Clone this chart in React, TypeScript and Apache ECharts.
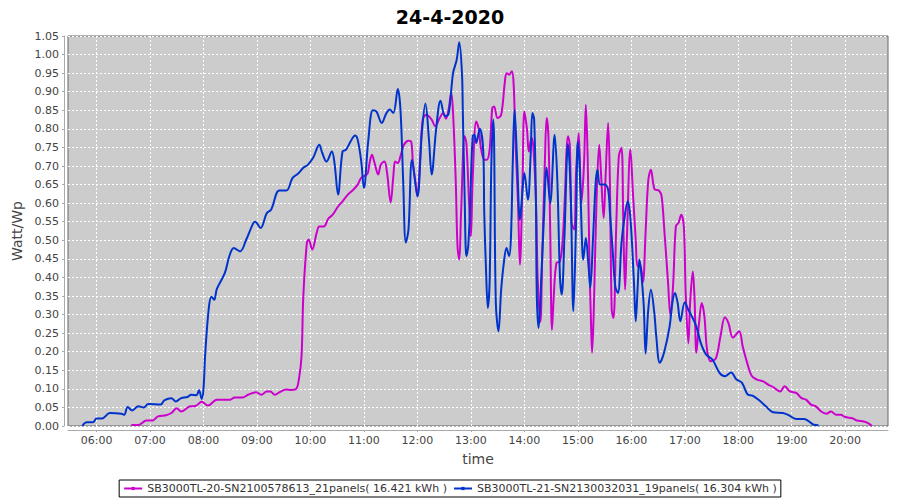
import React, { useEffect, useRef } from "react";
import * as echarts from "echarts";

const chartTitle = "24-4-2020";
const yAxisName = "Watt/Wp";
const xAxisName = "time";
const seriesNames = [
  "SB3000TL-20-SN2100578613_21panels( 16.421 kWh )",
  "SB3000TL-21-SN2130032031_19panels( 16.304 kWh )",
];
const seriesColors = ["#CC00CC", "#0033CC"];

const xTickLabels = [
  "06:00", "07:00", "08:00", "09:00", "10:00", "11:00", "12:00", "13:00",
  "14:00", "15:00", "16:00", "17:00", "18:00", "19:00", "20:00",
];
const xRange = ["05:28", "20:48"];

// SB3000TL-20 (magenta)
const magentaTimes = [
  "06:39","06:47","06:56","07:03","07:09","07:18","07:24","07:30","07:35","07:45",
  "07:51","07:58","08:05","08:15","08:30","08:35","08:44","08:50","08:59","09:05",
  "09:11","09:15","09:20","09:26","09:33","09:38","09:44","09:47","09:50","09:52",
  "09:56","09:58","10:02","10:07","10:10","10:15","10:20","10:25","10:31","10:36",
  "10:42","10:48","10:53","10:57","11:04","11:06","11:09","11:12","11:16","11:19",
  "11:23","11:26","11:30","11:33","11:35","11:38","11:41","11:45","11:50","11:53",
  "11:55","11:58","12:00","12:03","12:06","12:10","12:16","12:20","12:25","12:29",
  "12:32","12:35","12:38","12:40","12:43","12:45","12:47","12:49","12:53","12:55",
  "12:58","13:00","13:02","13:06","13:09","13:11","13:15","13:18","13:21","13:24",
  "13:26","13:30","13:34","13:38","13:40","13:43","13:46","13:48","13:50","13:53",
  "13:55","13:58","14:00","14:03","14:05","14:08","14:10","14:13","14:15","14:18",
  "14:20","14:23","14:25","14:27","14:29","14:31","14:33","14:36","14:40","14:43",
  "14:45","14:49","14:51","14:53","14:56","14:58","15:01","15:04","15:07","15:09",
  "15:11","15:13","15:15","15:16","15:18","15:21","15:24","15:26","15:29","15:31",
  "15:34","15:36","15:38","15:40","15:43","15:46","15:49","15:51","15:53","15:55",
  "15:59","16:02","16:05","16:07","16:10","16:13","16:16","16:19","16:22","16:26",
  "16:31","16:34","16:37","16:41","16:44","16:47","16:50","16:53","16:56","16:59",
  "17:01","17:04","17:06","17:09","17:11","17:13","17:16","17:19","17:22","17:25",
  "17:29","17:35","17:40","17:45","17:49","17:54","18:01","18:05","18:10","18:15",
  "18:21","18:28","18:34","18:39","18:47","18:52","18:58","19:05","19:11","19:16",
  "19:22","19:27","19:33","19:39","19:44","19:50","19:55","20:00","20:08","20:13",
  "20:21","20:27","20:30",
];
const magentaValues = [
  0.003,0.003,0.015,0.015,0.026,0.029,0.035,0.048,0.039,0.053,
  0.054,0.065,0.055,0.071,0.071,0.077,0.077,0.084,0.091,0.084,
  0.093,0.093,0.084,0.092,0.098,0.097,0.100,0.125,0.187,0.349,
  0.493,0.502,0.475,0.520,0.537,0.537,0.558,0.569,0.591,0.605,
  0.623,0.636,0.650,0.668,0.679,0.704,0.730,0.708,0.677,0.704,
  0.712,0.681,0.602,0.672,0.712,0.708,0.726,0.757,0.768,0.766,
  0.708,0.654,0.618,0.717,0.825,0.838,0.825,0.807,0.829,0.843,
  0.827,0.852,0.897,0.843,0.663,0.484,0.448,0.574,0.780,0.760,
  0.600,0.510,0.663,0.820,0.798,0.753,0.717,0.717,0.744,0.856,
  0.860,0.829,0.838,0.923,0.950,0.946,0.955,0.919,0.771,0.591,
  0.434,0.663,0.847,0.798,0.739,0.776,0.753,0.609,0.394,0.280,
  0.450,0.708,0.829,0.780,0.529,0.259,0.349,0.439,0.443,0.502,
  0.591,0.780,0.757,0.547,0.529,0.681,0.789,0.600,0.708,0.865,
  0.726,0.448,0.259,0.197,0.322,0.609,0.757,0.681,0.560,0.663,
  0.816,0.654,0.313,0.291,0.529,0.726,0.749,0.547,0.367,0.502,
  0.745,0.620,0.500,0.430,0.434,0.387,0.520,0.660,0.690,0.638,
  0.634,0.618,0.529,0.394,0.295,0.385,0.538,0.547,0.569,0.535,
  0.358,0.223,0.331,0.416,0.340,0.197,0.277,0.331,0.295,0.205,
  0.174,0.183,0.241,0.293,0.277,0.238,0.255,0.214,0.170,0.135,
  0.125,0.120,0.111,0.105,0.093,0.107,0.093,0.089,0.075,0.071,
  0.057,0.053,0.039,0.033,0.039,0.030,0.030,0.024,0.021,0.015,
  0.012,0.006,0.000,
];

// SB3000TL-21 (blue)
const blueTimes = [
  "05:44","05:49","05:56","06:00","06:06","06:15","06:28","06:31","06:35","06:40",
  "06:47","06:53","06:58","07:12","07:16","07:24","07:29","07:35","07:42","07:46",
  "07:52","07:55","07:58","08:00","08:02","08:06","08:09","08:12","08:15","08:24",
  "08:29","08:34","08:41","08:48","08:56","08:58","09:04","09:11","09:16","09:25",
  "09:33","09:40","09:46","09:52","09:57","10:03","10:10","10:13","10:18","10:24",
  "10:27","10:31","10:36","10:40","10:45","10:50","10:53","10:57","11:00","11:05",
  "11:10","11:14","11:20","11:25","11:29","11:33","11:38","11:41","11:44","11:47",
  "11:50","11:54","12:00","12:05","12:09","12:13","12:16","12:21","12:26","12:31",
  "12:35","12:40","12:44","12:47","12:50","12:51","12:53","12:55","12:57","12:59",
  "13:02","13:04","13:06","13:10","13:14","13:15","13:17","13:19","13:21","13:23",
  "13:25","13:26","13:28","13:31","13:34","13:37","13:40","13:43","13:45","13:47",
  "13:49","13:52","13:55","13:58","14:00","14:04","14:07","14:09","14:11","14:13",
  "14:14","14:16","14:19","14:22","14:25","14:29","14:34","14:37","14:40","14:42",
  "14:45","14:49","14:52","14:55","14:58","15:00","15:02","15:05","15:06","15:09",
  "15:12","15:14","15:17","15:20","15:22","15:25","15:30","15:34","15:36","15:39",
  "15:42","15:45","15:49","15:52","15:56","15:59","16:03","16:05","16:07","16:09",
  "16:11","16:14","16:16","16:19","16:22","16:26","16:28","16:32","16:37","16:43",
  "16:46","16:49","16:52","16:55","17:00","17:04","17:07","17:13","17:18","17:24",
  "17:31","17:39","17:45","17:52","17:58","18:04","18:11","18:16","18:25","18:31",
  "18:39","18:50","18:56","19:05","19:14","19:24","19:30",
];
const blueValues = [
  0.000,0.010,0.010,0.020,0.020,0.035,0.033,0.030,0.051,0.042,
  0.053,0.050,0.059,0.058,0.069,0.075,0.066,0.075,0.078,0.084,
  0.083,0.096,0.073,0.100,0.196,0.318,0.348,0.340,0.369,0.412,
  0.457,0.479,0.470,0.502,0.547,0.550,0.533,0.573,0.583,0.634,
  0.634,0.668,0.679,0.695,0.703,0.722,0.757,0.737,0.712,0.739,
  0.708,0.623,0.739,0.744,0.766,0.782,0.771,0.712,0.641,0.771,
  0.850,0.847,0.816,0.841,0.852,0.843,0.907,0.852,0.663,0.494,
  0.529,0.717,0.618,0.789,0.868,0.771,0.677,0.798,0.876,0.834,
  0.840,0.950,0.985,1.033,0.950,0.843,0.618,0.457,0.484,0.583,
  0.780,0.784,0.762,0.800,0.735,0.574,0.421,0.318,0.385,0.708,
  0.825,0.775,0.331,0.255,0.367,0.439,0.479,0.457,0.510,0.708,
  0.852,0.708,0.555,0.636,0.681,0.609,0.726,0.843,0.825,0.600,
  0.349,0.264,0.398,0.564,0.695,0.600,0.784,0.660,0.400,0.354,
  0.510,0.760,0.627,0.309,0.547,0.766,0.699,0.475,0.448,0.506,
  0.430,0.372,0.502,0.654,0.690,0.650,0.650,0.636,0.574,0.475,
  0.376,0.358,0.493,0.555,0.605,0.560,0.385,0.282,0.367,0.448,
  0.415,0.322,0.195,0.313,0.367,0.300,0.241,0.170,0.200,0.268,
  0.331,0.358,0.331,0.282,0.333,0.313,0.300,0.268,0.223,0.192,
  0.179,0.143,0.134,0.144,0.125,0.117,0.084,0.082,0.066,0.053,
  0.037,0.035,0.030,0.019,0.019,0.004,0.002,
];

const FONT = "DejaVu Sans";

function toMin(t: string): number {
  const [h, m] = t.split(":").map(Number);
  return h * 60 + m;
}
function fmtMin(v: number): string {
  const h = Math.floor(v / 60);
  const m = Math.round(v - h * 60);
  return String(h).padStart(2, "0") + ":" + String(m).padStart(2, "0");
}

export default function App() {
  const ref = useRef<HTMLDivElement>(null);
  useEffect(() => {
    if (!ref.current) return;
    const chart = echarts.init(ref.current, null, { renderer: "svg" });
    const ticks = xTickLabels.map(toMin);
    const mData = magentaTimes.map((t, i) => [toMin(t), magentaValues[i]]);
    const bData = blueTimes.map((t, i) => [toMin(t), blueValues[i]]);
    chart.setOption({
      animation: false,
      backgroundColor: "#ffffff",
      title: {
        text: chartTitle,
        left: "center",
        top: 2,
        textStyle: { fontFamily: FONT, fontSize: 19, fontWeight: "bold", color: "#000" },
      },
      grid: {
        left: 68,
        right: 12,
        top: 36,
        bottom: 74,
        show: true,
        backgroundColor: "#cccccc",
        borderColor: "#666666",
        borderWidth: 1,
      },
      legend: {
        bottom: 3,
        left: "center",
        borderColor: "#000",
        borderWidth: 1,
        padding: [3, 4, 3, 4],
        itemGap: 6,
        itemWidth: 18,
        itemHeight: 4,
        textStyle: { fontFamily: FONT, fontSize: 11, color: "#333" },
        data: seriesNames,
      },
      xAxis: {
        type: "value",
        min: toMin(xRange[0]),
        max: toMin(xRange[1]),
        offset: 4,
        name: xAxisName,
        nameLocation: "middle",
        nameGap: 22,
        nameTextStyle: { fontFamily: FONT, fontSize: 14, color: "#444" },
        axisLine: { show: true, onZero: false, lineStyle: { color: "#aaaaaa" } },
        axisTick: { show: true, length: 2, customValues: ticks, lineStyle: { color: "#aaaaaa" } },
        axisLabel: {
          customValues: ticks,
          formatter: (v: number) => fmtMin(v),
          fontFamily: FONT,
          fontSize: 11,
          color: "#444",
          margin: 5,
        },
        splitLine: { show: true, lineStyle: { color: "#ffffff", type: [2, 2], width: 1 } },
      },
      yAxis: {
        type: "value",
        min: 0,
        max: 1.05,
        interval: 0.05,
        offset: 4,
        name: yAxisName,
        nameLocation: "middle",
        nameGap: 37,
        nameTextStyle: { fontFamily: FONT, fontSize: 14, color: "#444" },
        axisLine: { show: true, lineStyle: { color: "#aaaaaa" } },
        axisTick: { show: true, length: 2, lineStyle: { color: "#aaaaaa" } },
        axisLabel: {
          formatter: (v: number) => v.toFixed(2),
          fontFamily: FONT,
          fontSize: 11,
          color: "#444",
          margin: 5,
        },
        splitLine: { show: true, lineStyle: { color: "#ffffff", type: [2, 2], width: 1 } },
      },
      series: [
        {
          name: seriesNames[0],
          type: "line",
          data: mData,
          smooth: 0.35,
          showSymbol: false,
          symbol: "rect",
          symbolSize: 3,
          lineStyle: { color: seriesColors[0], width: 2 },
          itemStyle: { color: seriesColors[0] },
          z: 3,
        },
        {
          name: seriesNames[1],
          type: "line",
          data: bData,
          smooth: 0.35,
          showSymbol: false,
          symbol: "rect",
          symbolSize: 3,
          lineStyle: { color: seriesColors[1], width: 2 },
          itemStyle: { color: seriesColors[1] },
          z: 4,
        },
      ],
    });
    return () => chart.dispose();
  }, []);
  return <div ref={ref} style={{ width: 900, height: 500, position: "absolute", left: 0, top: 0 }} />;
}
